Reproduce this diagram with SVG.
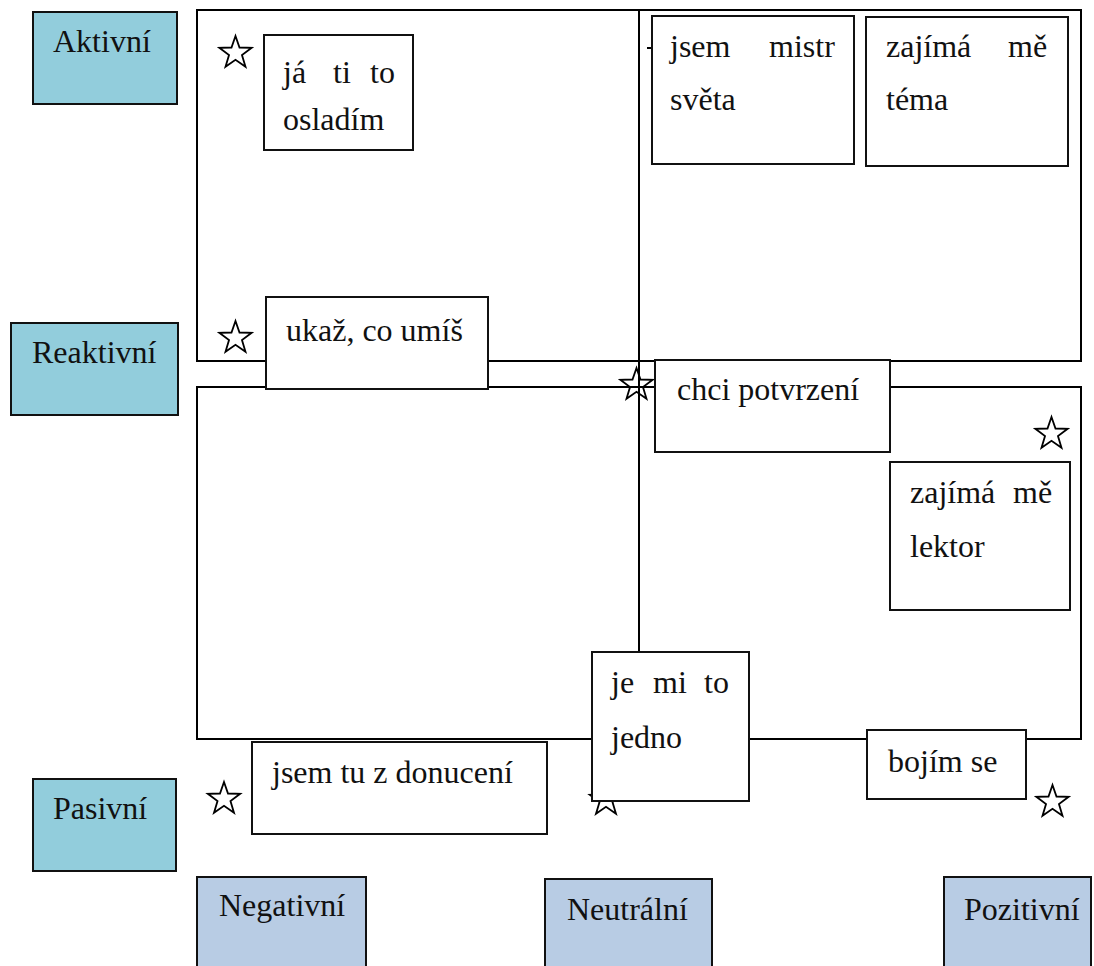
<svg xmlns="http://www.w3.org/2000/svg" width="1094" height="966" viewBox="0 0 1094 966">
<style>
text{font-family:'Liberation Serif','Times New Roman',serif;font-size:32px;fill:#111;}
.frame{fill:none;stroke:#000;stroke-width:2;}
.box{fill:#fff;stroke:#111;stroke-width:2;}
.row{fill:#92CDDC;stroke:#111;stroke-width:2;}
.col{fill:#B8CCE4;stroke:#111;stroke-width:2;}
.star{fill:none;stroke:#000;stroke-width:1.8;stroke-linejoin:miter;}
</style>
<defs>
<polygon id="star" points="0,-17 4,-5.5 16.17,-5.25 6.47,2.1 9.99,13.75 0,6.8 -9.99,13.75 -6.47,2.1 -16.17,-5.25 -4,-5.5"/>
</defs>
<rect width="1094" height="966" fill="#fff"/>
<g id="connectors">
<rect class="frame" x="197" y="10" width="884" height="351"/>
<rect class="frame" x="197" y="387" width="884" height="352"/>
<line class="frame" x1="639" y1="10" x2="639" y2="739"/>
<line class="frame" x1="647" y1="48" x2="652" y2="48" stroke-width="1.5"/>
</g>
<g id="row-aktivni"><rect class="row" x="33" y="12" width="144" height="92"/><text x="53" y="52">Aktivní</text></g>
<g id="row-reaktivni"><rect class="row" x="11" y="323" width="167" height="92"/><text x="32" y="363">Reaktivní</text></g>
<g id="row-pasivni"><rect class="row" x="33" y="779" width="143" height="92"/><text x="53" y="819">Pasivní</text></g>
<g id="col-negativni"><rect class="col" x="197" y="877" width="169" height="100"/><text x="219" y="916">Negativní</text></g>
<g id="col-neutralni"><rect class="col" x="545" y="879" width="167" height="100"/><text x="567" y="920">Neutrální</text></g>
<g id="col-pozitivni"><rect class="col" x="944" y="877" width="147" height="100"/><text x="964" y="920">Pozitivní</text></g>
<g id="stars">
<use href="#star" class="star" x="235.5" y="53"/>
<use href="#star" class="star" x="235.5" y="338"/>
<use href="#star" class="star" x="636.5" y="385"/>
<use href="#star" class="star" x="1051.5" y="434"/>
<use href="#star" class="star" x="224" y="799"/>
<use href="#star" class="star" x="606" y="800"/>
<use href="#star" class="star" x="1052.5" y="802"/>
</g>
<g id="n-osladim"><rect class="box" x="264" y="35" width="149" height="115"/><text y="83"><tspan x="283">já</tspan><tspan x="333">ti</tspan><tspan x="370">to</tspan></text><text x="283" y="130">osladím</text></g>
<g id="n-mistr"><rect class="box" x="652" y="16" width="202" height="148"/><text y="57"><tspan x="670">jsem</tspan><tspan x="769">mistr</tspan></text><text x="670" y="110">světa</text></g>
<g id="n-tema"><rect class="box" x="866" y="17" width="202" height="149"/><text y="57"><tspan x="886">zajímá</tspan><tspan x="1008">mě</tspan></text><text x="886" y="110">téma</text></g>
<g id="n-ukaz"><rect class="box" x="266" y="297" width="222" height="92"/><text x="286" y="341">ukaž, co umíš</text></g>
<g id="n-potvrzeni"><rect class="box" x="655" y="360" width="235" height="92"/><text x="677" y="400">chci potvrzení</text></g>
<g id="n-lektor"><rect class="box" x="890" y="462" width="180" height="148"/><text y="503"><tspan x="910">zajímá</tspan><tspan x="1013">mě</tspan></text><text x="910" y="557">lektor</text></g>
<g id="n-jedno"><rect class="box" x="592" y="652" width="157" height="149"/><text y="693"><tspan x="611">je</tspan><tspan x="653">mi</tspan><tspan x="704">to</tspan></text><text x="611" y="748">jedno</text></g>
<g id="n-bojim"><rect class="box" x="867" y="730" width="159" height="69"/><text x="888" y="772">bojím se</text></g>
<g id="n-donuceni"><rect class="box" x="252" y="742" width="295" height="92"/><text x="272" y="783">jsem tu z donucení</text></g>
</svg>
